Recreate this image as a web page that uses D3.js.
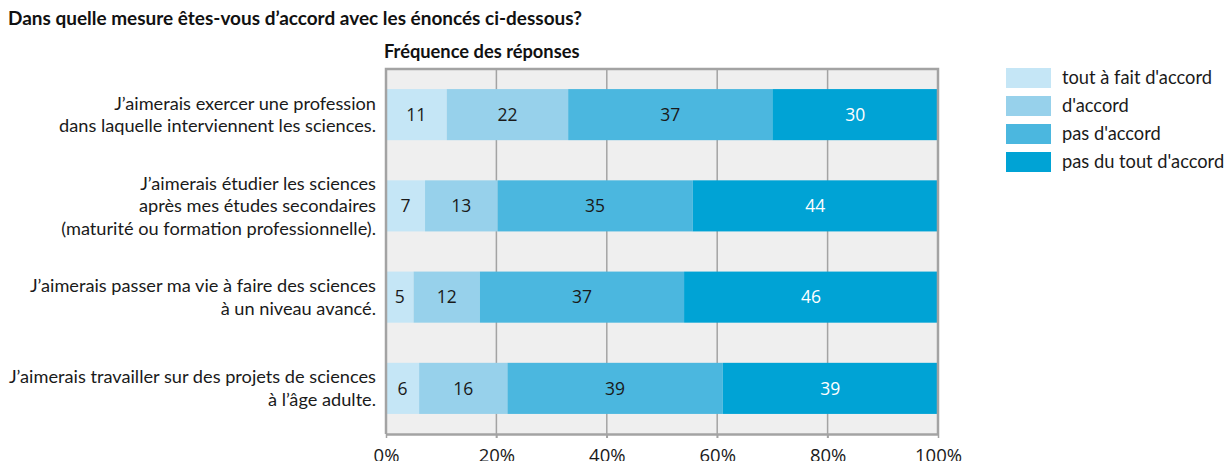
<!DOCTYPE html>
<html><head><meta charset="utf-8">
<script src="https://cdn.jsdelivr.net/npm/d3@7"></script>
<style>body{margin:0;background:#fff}svg{display:block;font-family:Lato,sans-serif}</style>
</head><body><svg id="c" width="1228" height="461"></svg>
<script>
const categories = [
  ["J’aimerais exercer une profession","dans laquelle interviennent les sciences."],
  ["J’aimerais étudier les sciences","après mes études secondaires","(maturité ou formation professionnelle)."],
  ["J’aimerais passer ma vie à faire des sciences","à un niveau avancé."],
  ["J’aimerais travailler sur des projets de sciences","à l’âge adulte."]
];
const seriesNames = ["tout à fait d'accord","d'accord","pas d'accord","pas du tout d'accord"];
const toutAFait = [11,7,5,6];
const dAccord = [22,13,12,16];
const pasDAccord = [37,35,37,39];
const pasDuTout = [30,44,46,39];
const tickValues = [0,20,40,60,80,100];
const colors = ["#c5e6f6","#97d1eb","#4bb7df","#00a3d5"];

const svg = d3.select("#c");
const x = d3.scaleLinear().domain([0,100]).range([386,938]);
const y = d3.scaleBand().domain(d3.range(categories.length)).range([69,434]).paddingInner(0.44).paddingOuter(0.22);
const series = [toutAFait,dAccord,pasDAccord,pasDuTout];
const GRID="#a3a3a3";

svg.append("text").attr("x",8).attr("y",25).attr("font-weight","bold").attr("font-size",18.5).attr("fill","#111")
  .attr("textLength",574).attr("lengthAdjust","spacingAndGlyphs")
  .text("Dans quelle mesure êtes-vous d’accord avec les énoncés ci-dessous?");
svg.append("text").attr("x",384).attr("y",58).attr("font-weight","bold").attr("font-size",18.3).attr("fill","#111")
  .text("Fréquence des réponses");

svg.append("rect").attr("x",x(0)).attr("y",69).attr("width",x(100)-x(0)).attr("height",434-69).attr("fill","#efefef");
svg.selectAll(".grid").data(tickValues.slice(1,-1)).join("line")
  .attr("x1",d=>x(d)).attr("x2",d=>x(d)).attr("y1",69).attr("y2",438).attr("stroke",GRID).attr("stroke-width",1.5);

categories.forEach((c,i)=>{
  const total = series.reduce((a,s)=>a+s[i],0);
  let acc=0;
  series.forEach((s,j)=>{
    const v=s[i];
    const x0=x(acc/total*100), x1=x((acc+v)/total*100);
    svg.append("rect").attr("x",x0).attr("y",y(i)).attr("width",x1-x0).attr("height",y.bandwidth()).attr("fill",colors[j]);
    svg.append("text").attr("x",(x0+x1)/2).attr("y",y(i)+y.bandwidth()/2).attr("dy","0.36em")
      .attr("font-family","Open Sans").attr("text-anchor","middle").attr("font-size",17.5).attr("fill",j===3?"#fff":"#1a1a1a").text(v);
    acc+=v;
  });
  const n=c.length, lh=22.5;
  const t=svg.append("text").attr("text-anchor","end").attr("font-size",18.2).attr("fill","#1a1a1a");
  c.forEach((line,k)=>{
    t.append("tspan").attr("x",376).attr("y",y(i)+y.bandwidth()/2+(k-(n-1)/2)*lh).attr("dy","0.35em").text(line);
  });
});

svg.append("path").attr("d",`M${x(0)},434 V69 H${x(100)} V434`).attr("fill","none").attr("stroke",GRID).attr("stroke-width",2.5);
const ax = svg.append("g").attr("transform","translate(0,434)")
  .call(d3.axisBottom(x).tickValues(tickValues).tickFormat(d=>d+"%").tickSize(4).tickSizeOuter(0));
ax.select(".domain").attr("stroke",GRID).attr("stroke-width",2.5);
ax.selectAll(".tick line").attr("stroke",GRID).attr("stroke-width",1.5);
ax.selectAll(".tick text").attr("font-size",18.5).attr("fill","#1a1a1a").attr("font-family","Open Sans").attr("y",10).attr("dy","0.95em");

const lg = svg.append("g");
seriesNames.forEach((n,j)=>{
  lg.append("rect").attr("x",1006).attr("y",68+j*28).attr("width",45).attr("height",20).attr("fill",colors[j]);
  lg.append("text").attr("x",1062).attr("y",78+j*28).attr("dy","0.35em").attr("font-size",18.3).attr("fill","#1a1a1a").text(n);
});
</script></body></html>
